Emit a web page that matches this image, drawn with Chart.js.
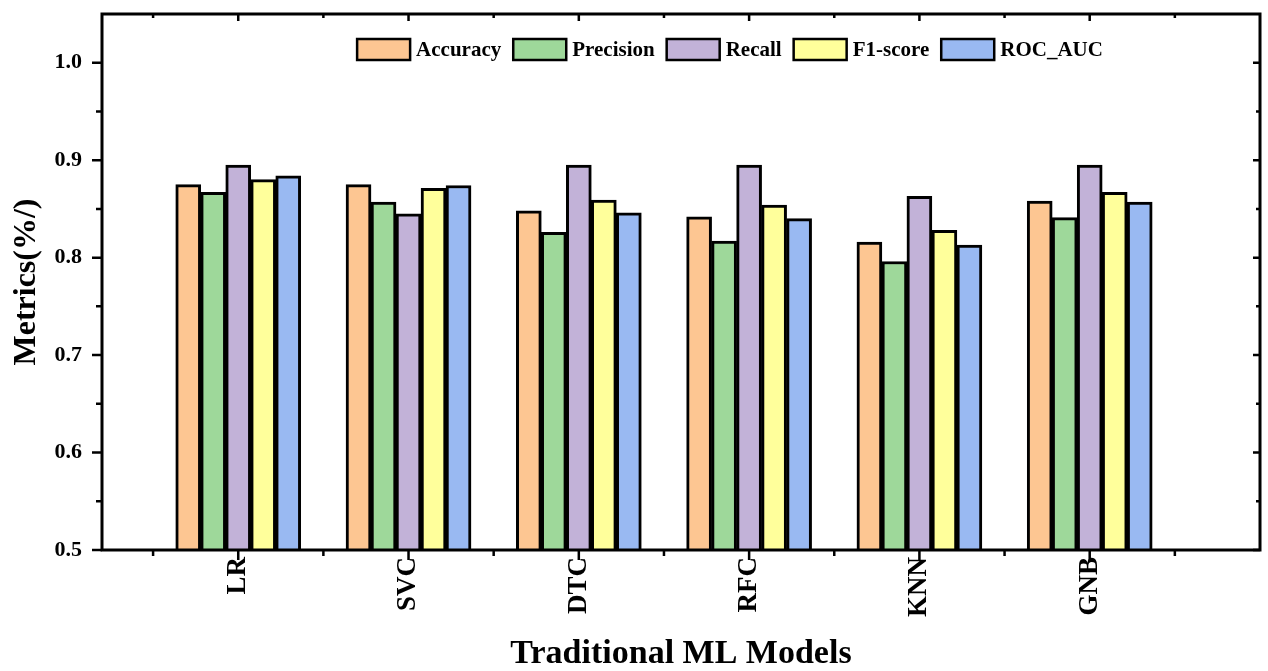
<!DOCTYPE html>
<html>
<head>
<meta charset="utf-8">
<script src="https://cdn.jsdelivr.net/npm/chart.js@4"></script>
<style>
  body { margin: 0; background: #fff; }
  #wrap { width: 1268px; height: 671px; }
</style>
</head>
<body>
<div id="wrap"><canvas id="chart" width="1268" height="671"></canvas></div>
<script>
// ---- data ----
const models = ["LR", "SVC", "DTC", "RFC", "KNN", "GNB"];
const accuracy  = [0.875, 0.875, 0.848, 0.842, 0.816, 0.858];
const precision = [0.867, 0.857, 0.826, 0.817, 0.796, 0.841];
const recall    = [0.895, 0.845, 0.895, 0.895, 0.863, 0.895];
const f1score   = [0.880, 0.871, 0.859, 0.854, 0.828, 0.867];
const rocAuc    = [0.884, 0.874, 0.846, 0.840, 0.813, 0.857];

const seriesNames = ["Accuracy", "Precision", "Recall", "F1-score", "ROC_AUC"];
const seriesColors = ["#FDC692", "#9ED89A", "#C2B2D8", "#FFFF9B", "#99B9F2"];

const serif = "'Liberation Serif', 'Times New Roman', serif";

function toPoints(arr) {
  return arr.map((v, i) => ({ x: i, y: v }));
}

const datasets = [accuracy, precision, recall, f1score, rocAuc].map((arr, k) => ({
  label: seriesNames[k],
  data: toPoints(arr),
  backgroundColor: seriesColors[k],
  borderColor: "#000",
  borderWidth: 3,
  borderSkipped: "bottom",
  barThickness: 25,
}));

// frame, Origin-style ticks (outer + mirrored inner) and the in-plot legend
const framePlugin = {
  id: "frame",
  afterDraw(chart) {
    const { ctx, chartArea: a, scales } = chart;
    const xs = scales.x, ys = scales.y;
    ctx.save();
    ctx.strokeStyle = "#000";
    ctx.lineCap = "butt";

    // ticks
    ctx.lineWidth = 2.5;
    ctx.beginPath();
    for (let v = -0.5; v < xs.max - 0.01; v += 0.5) {
      const px = xs.getPixelForValue(v);
      const major = Math.abs(v - Math.round(v)) < 1e-6;
      ctx.moveTo(px, a.bottom); ctx.lineTo(px, a.bottom + (major ? 10 : 6));
      ctx.moveTo(px, a.top);    ctx.lineTo(px, a.top + (major ? 7 : 4));
    }
    for (let i = 0; i <= 10; i++) {
      const v = 0.5 + i * 0.05;
      const py = ys.getPixelForValue(v);
      const major = i % 2 === 0;
      ctx.moveTo(a.left, py);  ctx.lineTo(a.left - (major ? 10 : 6), py);
      ctx.moveTo(a.right, py); ctx.lineTo(a.right - (major ? 7 : 4), py);
    }
    ctx.stroke();

    // frame
    ctx.lineWidth = 3;
    ctx.strokeRect(a.left, a.top, a.right - a.left, a.bottom - a.top);

    // legend
    ctx.font = "bold 21px " + serif;
    ctx.textBaseline = "middle";
    ctx.textAlign = "left";
    const boxW = 53, boxH = 21, gapText = 6, gapItem = 12;
    const items = chart.data.datasets.map(d => ({
      label: d.label, color: d.backgroundColor,
      w: boxW + gapText + ctx.measureText(d.label).width,
    }));
    const total = items.reduce((s, it) => s + it.w, 0) + gapItem * (items.length - 1);
    let x = 730 - total / 2;
    const yMid = 49.5;
    ctx.lineWidth = 2.5;
    items.forEach(it => {
      ctx.fillStyle = it.color;
      ctx.fillRect(x, yMid - boxH / 2, boxW, boxH);
      ctx.strokeRect(x, yMid - boxH / 2, boxW, boxH);
      ctx.fillStyle = "#000";
      ctx.fillText(it.label, x + boxW + gapText, yMid + 1);
      x += it.w + gapItem;
    });
    ctx.restore();
  },
};

new Chart(document.getElementById("chart"), {
  type: "bar",
  data: { datasets },
  options: {
    responsive: false,
    animation: false,
    layout: { padding: { left: 0, right: 8, top: 14, bottom: 0 } },
    plugins: { legend: { display: false }, tooltip: { enabled: false } },
    scales: {
      x: {
        type: "linear",
        min: -0.8,
        max: 6.0,
        offset: false,
        grid: { display: false, drawTicks: false },
        border: { display: false },
        afterFit(scale) {
          scale.height = 121;
          scale.paddingLeft = 0;
          scale.paddingRight = 0;
        },
        ticks: {
          stepSize: 0.5,
          autoSkip: false,
          maxRotation: 90,
          minRotation: 90,
          padding: 7,
          color: "#000",
          font: { family: serif, size: 27, weight: "bold" },
          callback(v) {
            return Number.isInteger(v) && models[v] !== undefined ? models[v] : "";
          },
        },
        title: {
          display: true,
          text: "Traditional ML Models",
          color: "#000",
          padding: { top: 0, bottom: 0 },
          font: { family: serif, size: 34, weight: "bold", lineHeight: 1.0 },
        },
      },
      y: {
        min: 0.5,
        max: 1.05,
        grid: { display: false, drawTicks: false },
        border: { display: false },
        afterFit(scale) {
          scale.width = 102;
          scale.paddingTop = 0;
          scale.paddingBottom = 0;
        },
        ticks: {
          stepSize: 0.05,
          autoSkip: false,
          padding: 20,
          color: "#000",
          font: { family: serif, size: 22, weight: "bold" },
          callback(v) {
            const t = v * 10;
            return Math.abs(t - Math.round(t)) < 1e-6 ? v.toFixed(1) : "";
          },
        },
        title: {
          display: true,
          text: "Metrics(%/)",
          color: "#000",
          padding: { top: 8, bottom: 0 },
          font: { family: serif, size: 32, weight: "bold" },
        },
      },
    },
  },
  plugins: [framePlugin],
});
</script>
</body>
</html>
